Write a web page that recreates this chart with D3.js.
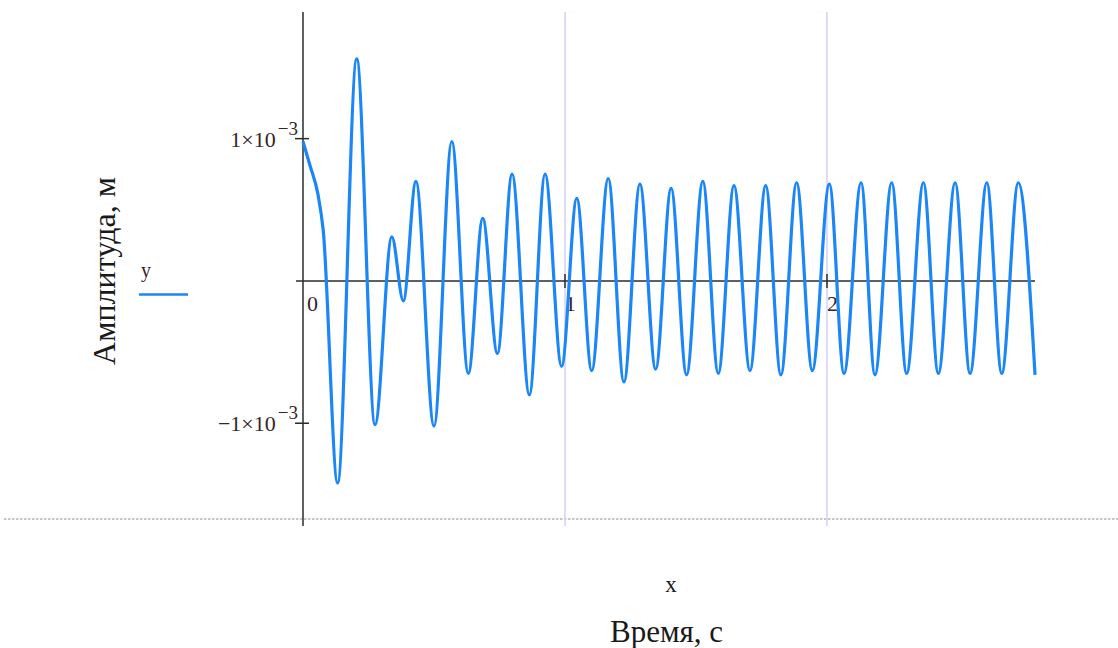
<!DOCTYPE html>
<html>
<head>
<meta charset="utf-8">
<script src="https://cdn.jsdelivr.net/npm/d3@7"></script>
<style>
  html, body { margin: 0; padding: 0; background: #fff; }
  svg { display: block; }
  text { font-family: "Liberation Serif", "Times New Roman", serif; }
</style>
</head>
<body>
<svg id="chart" width="1118" height="648"></svg>
<script>
// Oscillation record: turning points of the displacement curve
const timeS = [
  0.000, 0.027, 0.057, 0.077, 0.132, 0.205, 0.275, 0.339, 0.383, 0.431,
  0.500, 0.568, 0.631, 0.686, 0.742, 0.798, 0.864, 0.924, 0.987, 1.045,
  1.102, 1.165, 1.225, 1.286, 1.346, 1.405, 1.464, 1.526, 1.585, 1.645,
  1.706, 1.766, 1.824, 1.884, 1.944, 2.009, 2.065, 2.130, 2.183, 2.247,
  2.304, 2.368, 2.425, 2.489, 2.546, 2.610, 2.667, 2.730, 2.794
];
const amplitudeM = [
  0.980e-3, 0.81e-3, 0.61e-3, 0.36e-3, -1.42e-3, 1.56e-3, -1.01e-3, 0.31e-3, -0.14e-3, 0.70e-3,
  -1.02e-3, 0.98e-3, -0.65e-3, 0.44e-3, -0.51e-3, 0.75e-3, -0.80e-3, 0.75e-3, -0.60e-3, 0.58e-3,
  -0.63e-3, 0.72e-3, -0.71e-3, 0.68e-3, -0.62e-3, 0.65e-3, -0.66e-3, 0.70e-3, -0.65e-3, 0.67e-3,
  -0.63e-3, 0.67e-3, -0.66e-3, 0.69e-3, -0.63e-3, 0.68e-3, -0.65e-3, 0.69e-3, -0.66e-3, 0.69e-3,
  -0.65e-3, 0.69e-3, -0.65e-3, 0.69e-3, -0.65e-3, 0.69e-3, -0.65e-3, 0.69e-3, -0.66e-3
];

// Axis ticks and labels
const xTicks = [0, 1, 2];
const xTickLabels = ["0", "1", "2"];
const yTicks = [1e-3, -1e-3];
const yTickMantissa = ["1×10", "\u22121×10"];
const yTickExponent = ["\u22123", "\u22123"];
const xGridTicks = [1, 2];

const seriesName = "y";
const xVarName = "x";
const xTitle = "Время, с";
const yTitle = "Амплитуда, м";

const xDomain = [0, 2.8];
const yDomain = [-1.68e-3, 1.89e-3];

const svg = d3.select("#chart");
const x = d3.scaleLinear().domain(xDomain).range([303, 1036.6]);
const y = d3.scaleLinear().domain(yDomain).range([520, 12]);

const axisColor = "#2b2b2b";
const labelColor = "#35242a";
const lineColor = "#1a86f7";

// Dotted frame line along the bottom of the plot region
svg.append("line")
  .attr("x1", 4).attr("x2", 1118)
  .attr("y1", y(yDomain[0]) - 1).attr("y2", y(yDomain[0]) - 1)
  .attr("stroke", "#c6c6c6").attr("stroke-width", 2)
  .attr("stroke-dasharray", "2.5,1.5");

// x tick labels (drawn before grid lines so the grid sits on top)
svg.selectAll("text.xtick").data(xTicks).enter().append("text")
  .attr("class", "xtick")
  .attr("x", d => x(d) + (d === 0 ? 4 : 0))
  .attr("y", y(0) + 30)
  .attr("font-size", 22).attr("fill", labelColor)
  .text((d, i) => xTickLabels[i]);

// Vertical grid lines
svg.selectAll("line.grid").data(xGridTicks).enter().append("line")
  .attr("class", "grid")
  .attr("x1", d => x(d)).attr("x2", d => x(d))
  .attr("y1", y(yDomain[1])).attr("y2", y(yDomain[0]) + 6)
  .attr("stroke", "#d3cffa").attr("stroke-width", 1.5);

// Axes
svg.append("line")
  .attr("x1", x(0)).attr("x2", x(0))
  .attr("y1", y(yDomain[1])).attr("y2", y(yDomain[0]) + 6)
  .attr("stroke", axisColor).attr("stroke-width", 1.5);
svg.append("line")
  .attr("x1", x(0) - 7).attr("x2", x(timeS[timeS.length - 1]))
  .attr("y1", y(0)).attr("y2", y(0))
  .attr("stroke", axisColor).attr("stroke-width", 1.5);

// Tick marks
svg.selectAll("line.xt").data(xTicks.filter(d => d !== 0)).enter().append("line")
  .attr("class", "xt")
  .attr("x1", d => x(d)).attr("x2", d => x(d))
  .attr("y1", y(0) - 7).attr("y2", y(0) + 7)
  .attr("stroke", axisColor).attr("stroke-width", 1.5);
svg.selectAll("line.yt").data(yTicks).enter().append("line")
  .attr("class", "yt")
  .attr("x1", x(0) - 8).attr("x2", x(0) + 6)
  .attr("y1", d => y(d)).attr("y2", d => y(d))
  .attr("stroke", axisColor).attr("stroke-width", 1.5);

// y tick labels with superscript exponent
const yLab = svg.selectAll("text.ytick").data(yTicks).enter().append("text")
  .attr("class", "ytick")
  .attr("x", x(0) - 5)
  .attr("y", d => y(d) + 8)
  .attr("text-anchor", "end")
  .attr("font-size", 22).attr("fill", labelColor);
yLab.append("tspan").text((d, i) => yTickMantissa[i]);
yLab.append("tspan").attr("dy", -12).attr("dx", 2).attr("font-size", 19)
  .text((d, i) => yTickExponent[i]);

// Data curve
const line = d3.line()
  .x((d, i) => x(timeS[i]))
  .y(d => y(d))
  .curve(d3.curveMonotoneX);
svg.append("path")
  .datum(amplitudeM)
  .attr("d", line)
  .attr("fill", "none")
  .attr("stroke", lineColor)
  .attr("stroke-width", 3.2)
  .attr("stroke-linejoin", "round");

// Legend
svg.append("text")
  .attr("x", 141).attr("y", 277)
  .attr("font-size", 20).attr("fill", labelColor)
  .text(seriesName);
svg.append("line")
  .attr("x1", 139).attr("x2", 188)
  .attr("y1", 294.5).attr("y2", 294.5)
  .attr("stroke", lineColor).attr("stroke-width", 2.5);

// Axis titles
svg.append("text")
  .attr("x", 671).attr("y", 592)
  .attr("text-anchor", "middle")
  .attr("font-size", 23).attr("fill", "#1a1a1a")
  .text(xVarName);
svg.append("text")
  .attr("x", 666.5).attr("y", 642)
  .attr("text-anchor", "middle")
  .attr("font-size", 31).attr("fill", "#1a1a1a")
  .text(xTitle);
svg.append("text")
  .attr("transform", "translate(115,271) rotate(-90)")
  .attr("text-anchor", "middle")
  .attr("font-size", 32).attr("fill", "#1a1a1a")
  .text(yTitle);
</script>
</body>
</html>
